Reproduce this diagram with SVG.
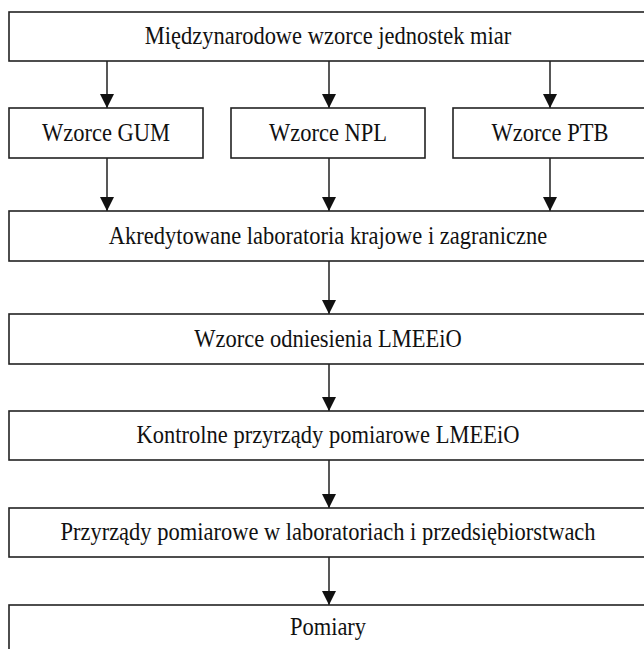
<svg xmlns="http://www.w3.org/2000/svg" width="644" height="649" viewBox="0 0 644 649">
<defs>
<style>
.box{fill:#fff;stroke:#222;stroke-width:1.6}
.lbl{font-family:"Liberation Serif","Times New Roman",serif;font-size:22.5px;fill:#111;text-anchor:middle}
.edge{stroke:#111;stroke-width:1.4;fill:none;marker-end:url(#arr)}
</style>
<marker id="arr" markerWidth="14" markerHeight="14" refX="14" refY="7" viewBox="0 0 14 14" markerUnits="userSpaceOnUse" orient="auto">
<path d="M0,0 L14,7 L0,14 Z" fill="#111"/>
</marker>
</defs>
<rect width="644" height="649" fill="#fff"/>
<g id="connectors">
<line class="edge" x1="107" y1="61" x2="107" y2="108"/>
<line class="edge" x1="329" y1="61" x2="329" y2="108"/>
<line class="edge" x1="550" y1="61" x2="550" y2="108"/>
<line class="edge" x1="107" y1="158" x2="107" y2="211"/>
<line class="edge" x1="329" y1="158" x2="329" y2="211"/>
<line class="edge" x1="550" y1="158" x2="550" y2="211"/>
<line class="edge" x1="329" y1="261" x2="329" y2="314"/>
<line class="edge" x1="329" y1="364" x2="329" y2="411"/>
<line class="edge" x1="329" y1="460" x2="329" y2="508"/>
<line class="edge" x1="329" y1="557" x2="329" y2="605"/>
</g>
<g id="n1"><rect class="box" x="9" y="12" width="640" height="49"/><text class="lbl" transform="translate(328 44) scale(1 1.08)">Międzynarodowe wzorce jednostek miar</text></g>
<g id="n2"><rect class="box" x="9" y="108" width="194" height="50"/><text class="lbl" transform="translate(106 141) scale(1 1.08)">Wzorce GUM</text></g>
<g id="n3"><rect class="box" x="231" y="108" width="194" height="50"/><text class="lbl" transform="translate(328 141) scale(1 1.08)">Wzorce NPL</text></g>
<g id="n4"><rect class="box" x="453" y="108" width="196" height="50"/><text class="lbl" transform="translate(550 141) scale(1 1.08)">Wzorce PTB</text></g>
<g id="n5"><rect class="box" x="9" y="211" width="640" height="50"/><text class="lbl" transform="translate(328 244) scale(1 1.08)">Akredytowane laboratoria krajowe i zagraniczne</text></g>
<g id="n6"><rect class="box" x="9" y="314" width="640" height="50"/><text class="lbl" transform="translate(328 347) scale(1 1.08)">Wzorce odniesienia LMEEiO</text></g>
<g id="n7"><rect class="box" x="9" y="411" width="640" height="49"/><text class="lbl" transform="translate(328 443) scale(1 1.08)">Kontrolne przyrządy pomiarowe LMEEiO</text></g>
<g id="n8"><rect class="box" x="9" y="508" width="640" height="49"/><text class="lbl" transform="translate(328 540) scale(1 1.08)">Przyrządy pomiarowe w laboratoriach i przedsiębiorstwach</text></g>
<g id="n9"><rect class="box" x="9" y="605" width="640" height="60"/><text class="lbl" transform="translate(328 635) scale(1 1.08)">Pomiary</text></g>
</svg>
